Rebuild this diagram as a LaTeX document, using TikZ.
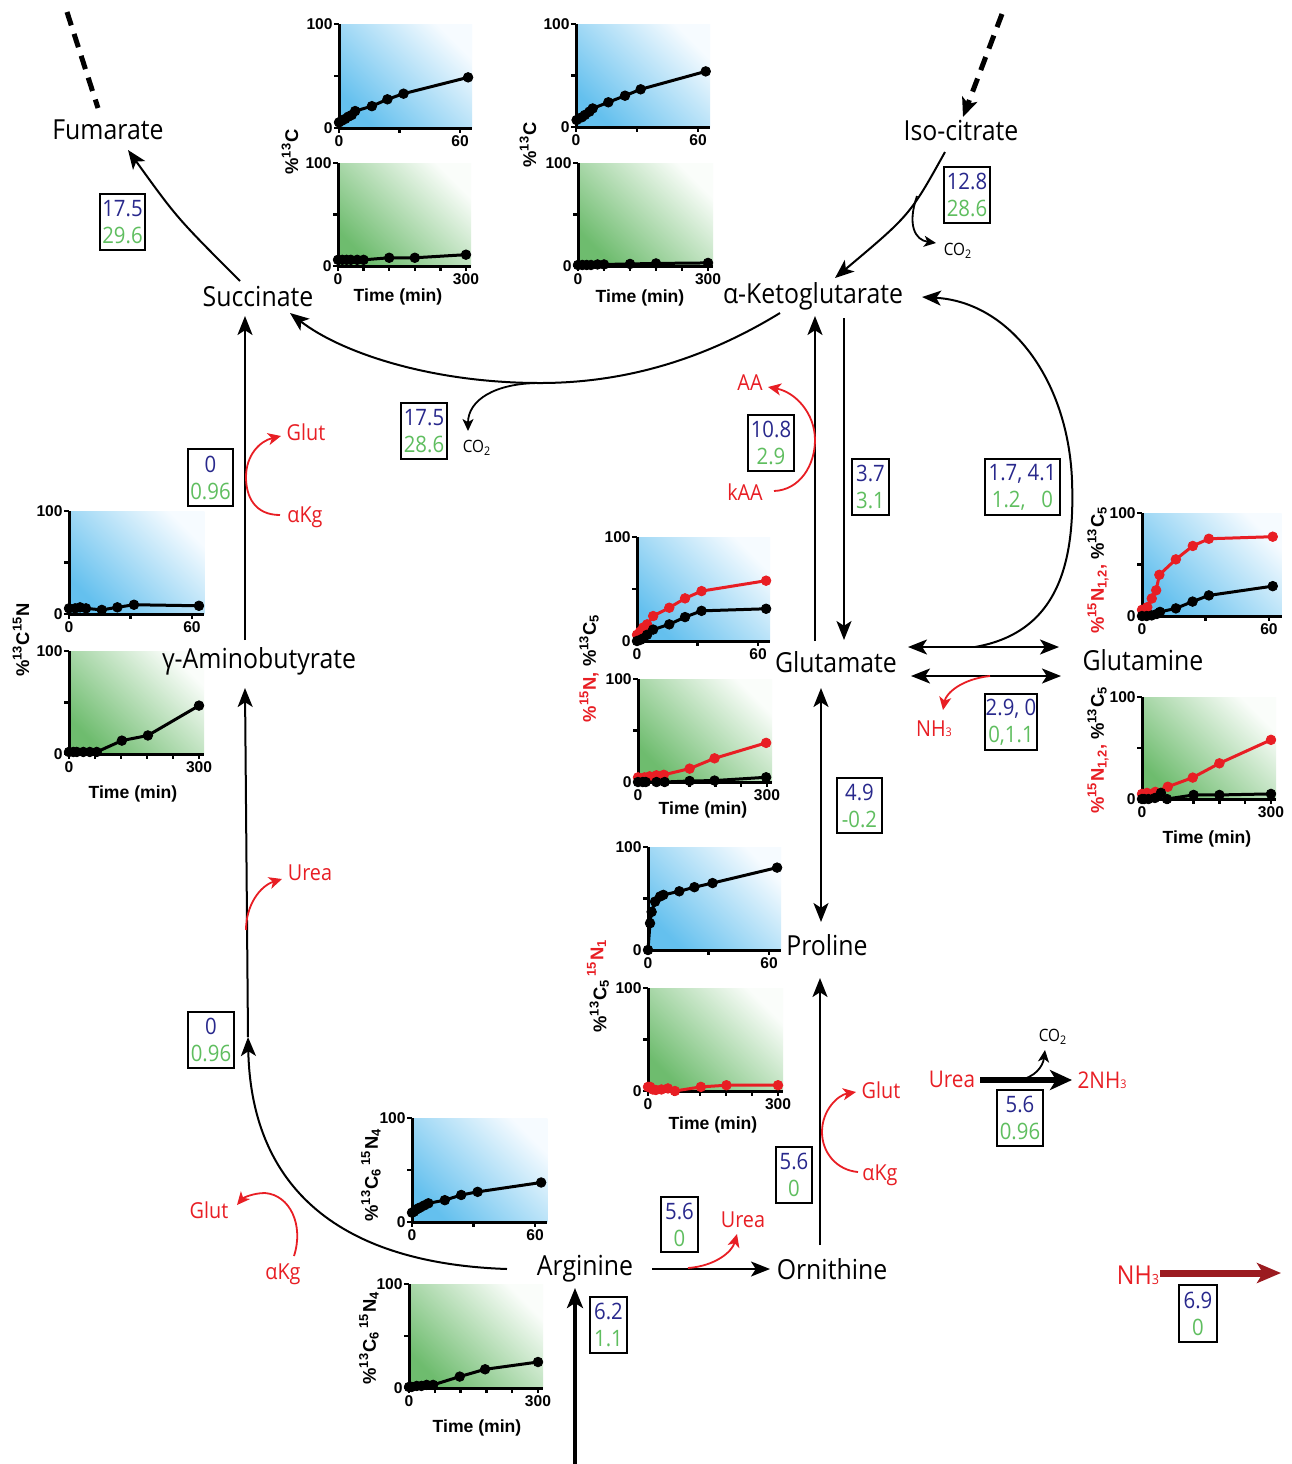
\documentclass[tikz,border=0pt]{standalone}
\usepackage{fontspec}
\setmainfont{Open Sans}[FakeStretch=0.9]
\newfontfamily\pf{Liberation Sans}
\usetikzlibrary{arrows.meta}
\definecolor{nblue}{RGB}{40,40,140}
\definecolor{ngreen}{RGB}{95,190,95}
\definecolor{nred}{RGB}{232,30,36}
\definecolor{dred}{RGB}{155,27,32}
\definecolor{bD}{RGB}{100,192,238}
\definecolor{bL}{RGB}{246,251,255}
\definecolor{gD}{RGB}{110,188,110}
\definecolor{gL}{RGB}{250,253,250}
\tikzset{
 met/.style={inner sep=0pt, font=\fontsize{13.8}{16}\selectfont},
 rl/.style={inner sep=0pt, text=nred, font=\fontsize{11}{13}\selectfont},
 co/.style={inner sep=0pt, font=\fontsize{8.5}{10}\selectfont},
 arr/.style={line width=1pt, -{Stealth[length=9.5pt,width=7.5pt,inset=2.4pt]}},
 darr/.style={line width=1pt, {Stealth[length=9.5pt,width=7.5pt,inset=2.4pt]}-{Stealth[length=9.5pt,width=7.5pt,inset=2.4pt]}},
 sarr/.style={line width=0.9pt, -{Stealth[length=6pt,width=5.5pt,inset=1.6pt]}},
 rarr/.style={line width=0.9pt, draw=nred, -{Stealth[length=6.5pt,width=6pt,inset=1.8pt]}},
 tarr/.style={line width=2pt, -{Stealth[length=10pt,width=8pt,inset=2.5pt]}},
 uarr/.style={line width=3pt, -{Stealth[length=11pt,width=10pt,inset=3pt]}},
 nharr/.style={line width=3.5pt, draw=dred, -{Stealth[length=12pt,width=10pt,inset=3pt]}},
 dsh/.style={line width=2.5pt, dash pattern=on 7pt off 4.5pt},
 vbox/.style={draw, line width=1pt, inner sep=0pt, align=center, font=\fontsize{11.3}{13.5}\selectfont},
 axl/.style={line width=1.5pt, line join=miter},
 tkl/.style={line width=1.2pt},
 tk/.style={inner sep=0pt, font=\pf\bfseries\fontsize{7.8}{9}\selectfont},
 ylab/.style={rotate=90, inner sep=0pt, font=\pf\bfseries\fontsize{9.2}{11}\selectfont},
 tl/.style={inner sep=0pt, font=\pf\bfseries\fontsize{8.8}{10}\selectfont},
 ser/.style={line width=1.5pt, mark=*, mark size=2.4pt, mark options={solid, line width=0.4pt}},
}
\newcommand\topax[3]{%
 \shade[top color=#2, bottom color=#1, shading angle=-45] (0,0) rectangle (66,100);
 \draw[axl] (0,100) -- (0,0) -- (66,0);
 \foreach \v in {0,50,100} \draw[tkl] (0,\v) -- ++(-2.5pt,0);
 \foreach \t in {0,30,60} \draw[tkl] (\t,0) -- ++(0,-2.5pt);
 \node[tk,left=3pt] (#3ya) at (0,0) {0};
 \node[tk,left=3pt] (#3yb) at (0,100) {100};
 \node[tk,below=3.5pt] (#3xa) at (0,0) {0};
 \node[tk,below=3.5pt] (#3xb) at (60,0) {60};
}
\newcommand\botax[3]{%
 \shade[top color=#2, bottom color=#1, shading angle=-45] (0,0) rectangle (312,100);
 \draw[axl] (0,100) -- (0,0) -- (312,0);
 \foreach \v in {0,50,100} \draw[tkl] (0,\v) -- ++(-2.5pt,0);
 \foreach \t in {0,60,...,300} \draw[tkl] (\t,0) -- ++(0,-2.5pt);
 \node[tk,left=3pt] (#3ya) at (0,0) {0};
 \node[tk,left=3pt] (#3yb) at (0,100) {100};
 \node[tk,below=3.5pt] (#3xa) at (0,0) {0};
 \node[tk,below=3.5pt] (#3xb) at (300,0) {300};
}
\begin{document}
\begin{tikzpicture}[x=0.5pt,y=-0.5pt]
\useasboundingbox (0,0) rectangle (1292,1464);
\fill[white] (0,0) rectangle (1292,1464);

% ---------------- plot panels ----------------
% A: succinate
\begin{scope}[shift={(339,128)}, x=1.0085pt, y=0.52pt]
 \topax{bD}{bL}{At}
 \draw[ser] plot coordinates {(0,5.4)(1.3,7)(3,8.7)(4.6,10.9)(6.3,12.5)(8,16.3)(16.3,21)(24,27.6)(32,33)(64,48.7)};
\end{scope}
\begin{scope}[shift={(338,266)}, x=0.2133pt, y=0.515pt]
 \botax{gD}{gL}{Ab}
 \draw[ser] plot coordinates {(0,6)(10,6)(20,6)(30,6)(45,6)(60,6)(120,8)(180,8)(300,11)};
\end{scope}
\node[ylab] (Al) at (290,152) {\%\textsuperscript{13}C};
\node[tl] (At) at (398,297) {Time (min)};
% B: alpha-KG
\begin{scope}[shift={(576,127)}, x=1.0167pt, y=0.515pt]
 \topax{bD}{bL}{Bt}
 \draw[ser] plot coordinates {(0.3,6.8)(2.8,9.4)(4.4,11.7)(6.6,14.9)(8.2,18)(15.9,24)(24.1,30.4)(31.8,36.6)(63.8,54)};
\end{scope}
\begin{scope}[shift={(578,266)}, x=0.2167pt, y=0.515pt]
 \botax{gD}{gL}{Bb}
 \draw[ser] plot coordinates {(0,1)(10,1)(20,1)(30,1)(45,1.5)(60,1.5)(120,2)(180,2.5)(300,3)};
\end{scope}
\node[ylab] (Bl) at (528,145) {\%\textsuperscript{13}C};
\node[tl] (Bt) at (640,298) {Time (min)};
% C: GABA
\begin{scope}[shift={(69,614)}, x=1.025pt, y=0.515pt]
 \topax{bD}{bL}{Ct}
 \draw[ser] plot coordinates {(0,5.5)(3,5.5)(5.4,6.5)(8.3,5.5)(16,4)(23.6,6.5)(31.7,9)(63.4,8)};
\end{scope}
\begin{scope}[shift={(69,754)}, x=0.2167pt, y=0.515pt]
 \botax{gD}{gL}{Cb}
 \draw[ser] plot coordinates {(0,2)(10,2)(18,2)(33,2)(48,2)(64,2)(122,13)(182,18)(300,47)};
\end{scope}
\node[ylab] (Cl) at (21,640) {\%\textsuperscript{13}C\textsuperscript{15}N};
\node[tl] (Ct) at (133,794) {Time (min)};
% D: glutamate
\begin{scope}[shift={(637,641)}, x=1.0085pt, y=0.52pt]
 \topax{bD}{bL}{Dt}
 \draw[ser,nred] plot coordinates {(0,6)(1.5,9)(3.1,13)(5,16)(8,24)(16,32)(23.8,41)(32,48)(64,58)};
 \draw[ser] plot coordinates {(0,0)(1.5,1)(3.1,2.5)(5,6)(8,11)(16,16)(23.8,23)(32,29)(64,31)};
\end{scope}
\begin{scope}[shift={(638,782)}, x=0.215pt, y=0.515pt]
 \botax{gD}{gL}{Db}
 \draw[ser,nred] plot coordinates {(0,4.5)(15,4.5)(27,5.5)(43,6.5)(60,7)(120,13)(178,23)(298,38)};
 \draw[ser] plot coordinates {(0,0)(11,0)(18,0)(43,0)(62,0)(120,1)(178,1.4)(298,4.6)};
\end{scope}
\node[ylab] (Dl) at (589,668) {{\color{nred}\%\textsuperscript{15}N,} \%\textsuperscript{13}C\textsubscript{5}};
\node[tl] (Dtm) at (703,810) {Time (min)};
% E: glutamine
\begin{scope}[shift={(1142,616)}, x=1.058pt, y=0.515pt]
 \topax{bD}{bL}{Et}
 \draw[ser,nred] plot coordinates {(0,6)(2.5,8.6)(4.6,17)(6.7,25)(8.2,40)(16,55)(24,68)(31.6,75)(61.8,77)};
 \draw[ser] plot coordinates {(0,0)(2.2,0)(4.6,0.6)(7,2)(8.5,4)(16,7.4)(23.9,14)(31.6,20)(61.8,29)};
\end{scope}
\begin{scope}[shift={(1142,799)}, x=0.215pt, y=0.51pt]
 \botax{gD}{gL}{Eb}
 \draw[ser,nred] plot coordinates {(0,5)(11.6,6)(31,7)(60,12)(118,21)(180,35)(300,58)};
 \draw[ser] plot coordinates {(0,0)(5,0)(15,0)(30,1)(44,6)(58,0)(120,4)(180,4)(300,5)};
\end{scope}
\node[ylab] (El1) at (1098,570) {{\color{nred}\%\textsuperscript{15}N\textsubscript{1,2},} \%\textsuperscript{13}C\textsubscript{5}};
\node[ylab] (El2) at (1098,750) {{\color{nred}\%\textsuperscript{15}N\textsubscript{1,2},} \%\textsuperscript{13}C\textsubscript{5}};
\node[tl] (Etm) at (1207,839) {Time (min)};
% F: proline
\begin{scope}[shift={(648,950)}, x=1.0085pt, y=0.515pt]
 \topax{bD}{bL}{Ft}
 \draw[ser] plot coordinates {(0,0)(1,26)(1.8,37)(3.5,47)(6,52)(7.6,53.5)(15.5,57)(23,61)(32,65)(64,80)};
\end{scope}
\begin{scope}[shift={(648,1091)}, x=0.2167pt, y=0.515pt]
 \botax{gD}{gL}{Fb}
 \draw[ser,nred] plot coordinates {(0,4)(5,4)(11,1.5)(18,1)(31,1.5)(46,2.5)(62,0)(122,4)(181,5.6)(300,5.6)};
\end{scope}
\node[ylab] (Fl) at (598,986) {\%\textsuperscript{13}C\textsubscript{5}\,{\color{nred}\raisebox{0.3ex}{\textsuperscript{15}N\textsubscript{1}}}};
\node[tl] (Ftm) at (713,1125) {Time (min)};
% G: arginine
\begin{scope}[shift={(412,1222)}, x=1.025pt, y=0.52pt]
 \topax{bD}{bL}{Gt}
 \draw[ser] plot coordinates {(0,9)(1,10)(2,12)(3,13)(4,14)(6,16)(8,18)(16,21)(24,26)(32,29)(63,38)};
\end{scope}
\begin{scope}[shift={(409,1388)}, x=0.215pt, y=0.52pt]
 \botax{gD}{gL}{Gb}
 \draw[ser] plot coordinates {(0,1)(6,1)(18,2)(29,2)(41,3)(56,3)(118,11)(177,18)(300,25)};
\end{scope}
\node[ylab] (Gl1) at (371,1175) {\%\textsuperscript{13}C\textsubscript{6}\,\textsuperscript{15}N\textsubscript{4}};
\node[ylab] (Gl2) at (369,1338) {\%\textsuperscript{13}C\textsubscript{6}\,\textsuperscript{15}N\textsubscript{4}};
\node[tl] (Gtm) at (477,1428) {Time (min)};

% ---------------- metabolites ----------------
\node[met] (fum) at (108,130) {Fumarate};
\node[met] (iso) at (961,130) {Iso-citrate};
\node[met] (suc) at (258,296) {Succinate};
\node[met] (akg) at (813,296) {α-Ketoglutarate};
\node[met] (gaba) at (259,661) {γ-Aminobutyrate};
\node[met] (glu) at (836,662) {Glutamate};
\node[met] (gln) at (1143,660) {Glutamine};
\node[met] (pro) at (827,945) {Proline};
\node[met] (arg) at (585,1269) {Arginine};
\node[met] (orn) at (832,1269) {Ornithine};

% ---------------- connectors ----------------
\coordinate (dA1) at (67,12); \coordinate (dA2) at (98,108);
\draw[dsh] (dA1) -- (dA2);
\coordinate (dB1) at (1002,14); \coordinate (dB2) at (963,117);
\draw[dsh, -{Stealth[length=9.5pt,width=8pt,inset=2.4pt]}] (dB1) -- (dB2);

\coordinate (s1) at (240,281); \coordinate (f1) at (128,150);
\draw[arr] (s1) .. controls (177,218) .. (f1);

\coordinate (i1) at (945,152); \coordinate (k1) at (835,278);
\draw[arr] (i1) .. controls (910,215) .. (k1);
\coordinate (i2) at (917,196); \coordinate (c1) at (936,243);
\draw[sarr] (i2) .. controls (907,225) and (915,240) .. (c1);
\node[co] (co1) at (958,251) {CO\textsubscript{2}};

\coordinate (k2) at (780,313); \coordinate (m1) at (540,383); \coordinate (s2) at (290,313);
\draw[arr] (k2) .. controls (700,362) and (620,383) .. (m1) .. controls (430,383) and (340,352) .. (s2);
\coordinate (c2) at (468,431);
\draw[sarr] (m1) .. controls (495,383) and (468,400) .. (c2);
\node[co] (co2) at (477,448) {CO\textsubscript{2}};

\coordinate (g1) at (245,640); \coordinate (s3) at (245,316);
\draw[arr] (g1) -- (s3);
\coordinate (r1a) at (280,515); \coordinate (r1b) at (281,436);
\draw[rarr] (r1a) .. controls (255,515) and (246,497) .. (246,477) .. controls (246,455) and (260,441) .. (r1b);
\node[rl] (glut1) at (306,432) {Glut};
\node[rl] (akg1) at (305,517) {αKg};

\coordinate (a1) at (507,1269); \coordinate (g2) at (248,1037); \coordinate (g3) at (245,688);
\draw[arr] (a1) .. controls (330,1263) and (251,1180) .. (g2);
\draw[arr] (g2) -- (g3);
\coordinate (u0) at (246,930); \coordinate (u1) at (282,879);
\draw[rarr] (u0) .. controls (246,905) and (260,886) .. (u1);
\node[rl] (urea1) at (310,873) {Urea};
\coordinate (r2a) at (294,1256); \coordinate (r2b) at (237,1205);
\draw[rarr] (r2a) .. controls (304,1225) and (290,1195) .. (265,1193) .. controls (253,1193) and (243,1198) .. (r2b);
\node[rl] (glut2) at (209,1210) {Glut};
\node[rl] (akg2) at (283,1274) {αKg};

\coordinate (a2) at (652,1269); \coordinate (o1) at (770,1269);
\draw[arr] (a2) -- (o1);
\coordinate (u2) at (688,1268); \coordinate (u3) at (737,1234);
\draw[rarr] (u2) .. controls (715,1266) and (732,1252) .. (u3);
\node[rl] (urea2) at (743,1220) {Urea};

\coordinate (bt) at (575,1464); \coordinate (a3) at (575,1288);
\draw[tarr] (bt) -- (a3);

\coordinate (o2) at (820,1245); \coordinate (p1) at (820,978);
\draw[arr] (o2) -- (p1);
\coordinate (r3a) at (858,1172); \coordinate (r3b) at (856,1092);
\draw[rarr] (r3a) .. controls (836,1170) and (822,1152) .. (822,1132) .. controls (822,1110) and (838,1095) .. (r3b);
\node[rl] (glut3) at (881,1090) {Glut};
\node[rl] (akg3) at (880,1175) {αKg};

\coordinate (gp1) at (821,688); \coordinate (gp2) at (821,922);
\draw[darr] (gp1) -- (gp2);

\coordinate (ku1) at (815,641); \coordinate (ku2) at (815,316);
\draw[arr] (ku1) -- (ku2);
\coordinate (kd1) at (844,318); \coordinate (kd2) at (844,640);
\draw[arr] (kd1) -- (kd2);
\coordinate (r4a) at (774,491); \coordinate (r4b) at (768,387);
\draw[rarr] (r4a) .. controls (800,490) and (815,465) .. (815,440) .. controls (815,413) and (795,392) .. (r4b);
\node[rl] (aa) at (750,383) {AA};
\node[rl] (kaa) at (745,492) {kAA};

\coordinate (q1) at (908,647); \coordinate (q2) at (1059,647);
\draw[darr] (q1) -- (q2);
\coordinate (q3) at (911,676); \coordinate (q4) at (1061,676);
\draw[darr] (q3) -- (q4);
\coordinate (q5) at (975,647); \coordinate (k3) at (922,297);
\draw[arr] (q5) .. controls (1060,632) and (1075,560) .. (1072,480) .. controls (1068,380) and (1010,302) .. (k3);
\coordinate (n1) at (990,676); \coordinate (n2) at (943,710);
\draw[rarr] (n1) .. controls (962,679) and (946,693) .. (n2);
\node[rl] (nh1) at (934,729) {NH{\fontsize{6}{6}\selectfont 3}};

\node[rl, font=\fontsize{11.5}{13}\selectfont] (urea3) at (952,1079) {Urea};
\coordinate (ur1) at (980,1080); \coordinate (ur2) at (1072,1080);
\draw[uarr] (ur1) -- (ur2);
\coordinate (ur3) at (1018,1080); \coordinate (ur4) at (1045,1050);
\draw[sarr] (ur3) .. controls (1035,1078) and (1043,1066) .. (ur4);
\node[co] (co3) at (1053,1037) {CO\textsubscript{2}};
\node[rl, font=\fontsize{11.5}{13}\selectfont] (nh2) at (1102,1080) {2NH{\fontsize{6}{6}\selectfont 3}};

\node[rl, font=\fontsize{13}{15}\selectfont] (nh3) at (1138,1275) {NH{\fontsize{7}{7}\selectfont 3}};
\coordinate (nh3a) at (1160,1273); \coordinate (nh3b) at (1281,1273);
\draw[nharr] (nh3a) -- (nh3b);

% ---------------- value boxes ----------------
\node[vbox, minimum width=22.5pt, minimum height=28pt] (b1) at (122.5,222) {\textcolor{nblue}{17.5}\\\textcolor{ngreen}{29.6}};
\node[vbox, minimum width=23pt, minimum height=28pt] (b2) at (967,195) {\textcolor{nblue}{12.8}\\\textcolor{ngreen}{28.6}};
\node[vbox, minimum width=23pt, minimum height=28pt] (b3) at (424,431) {\textcolor{nblue}{17.5}\\\textcolor{ngreen}{28.6}};
\node[vbox, minimum width=22.5pt, minimum height=28.5pt] (b4) at (210.5,477.5) {\textcolor{nblue}{0}\\\textcolor{ngreen}{0.96}};
\node[vbox, minimum width=23pt, minimum height=28pt] (b5) at (771,443) {\textcolor{nblue}{10.8}\\\textcolor{ngreen}{2.9}};
\node[vbox, minimum width=18.5pt, minimum height=28pt] (b6) at (870.5,487) {\textcolor{nblue}{3.7}\\\textcolor{ngreen}{3.1}};
\node[vbox, minimum width=37.5pt, minimum height=28pt] (b7) at (1022.5,487) {\textcolor{nblue}{1.7, 4.1}\\\textcolor{ngreen}{1.2,\ \ \ 0}};
\node[vbox, minimum width=26pt, minimum height=28pt] (b8) at (1011,722) {\textcolor{nblue}{2.9, 0}\\\textcolor{ngreen}{0,1.1}};
\node[vbox, minimum width=22.5pt, minimum height=27.5pt] (b9) at (859.5,805.5) {\textcolor{nblue}{4.9}\\\textcolor{ngreen}{-0.2}};
\node[vbox, minimum width=23pt, minimum height=28pt] (b10) at (211,1040) {\textcolor{nblue}{0}\\\textcolor{ngreen}{0.96}};
\node[vbox, minimum width=23pt, minimum height=28pt] (b11) at (1020,1118) {\textcolor{nblue}{5.6}\\\textcolor{ngreen}{0.96}};
\node[vbox, minimum width=18pt, minimum height=28pt] (b12) at (794,1175) {\textcolor{nblue}{5.6}\\\textcolor{ngreen}{0}};
\node[vbox, minimum width=18.5pt, minimum height=27.5pt] (b13) at (679.5,1224.5) {\textcolor{nblue}{5.6}\\\textcolor{ngreen}{0}};
\node[vbox, minimum width=18.5pt, minimum height=28pt] (b14) at (608.5,1325) {\textcolor{nblue}{6.2}\\\textcolor{ngreen}{1.1}};
\node[vbox, minimum width=19pt, minimum height=28.5pt] (b15) at (1198,1313.5) {\textcolor{nblue}{6.9}\\\textcolor{ngreen}{0}};
\end{tikzpicture}
\end{document}
